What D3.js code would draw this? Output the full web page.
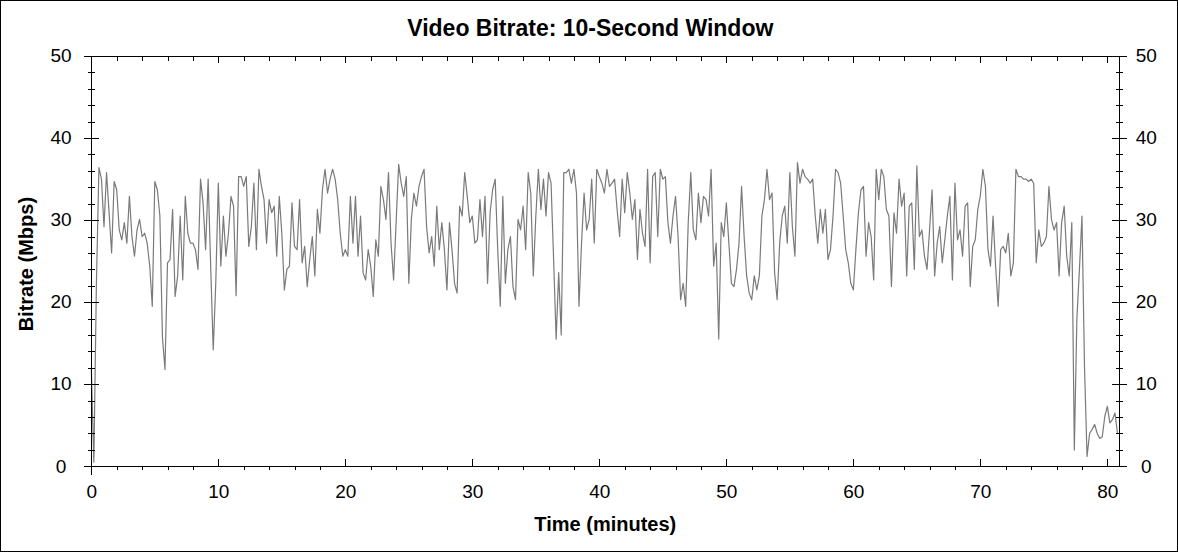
<!DOCTYPE html>
<html>
<head>
<meta charset="utf-8">
<script src="https://cdn.jsdelivr.net/npm/d3@7/dist/d3.min.js"></script>
<style>
    body { margin: 0; background: #fff; }
    svg { display: block; font-family: "Liberation Sans", Arial, sans-serif; }
    .axis path, .axis line { stroke: #000; shape-rendering: crispEdges; }
    .axis text { font-size: 19px; fill: #000; }
</style>
</head>
<body>
<div id="chart"></div>
<script>
// bitrate samples, one every 0.2 minutes (Mbps)
const stepMin = 0.2;
const bitrate = [
    12, 0.5, 22, 36.4, 35, 29.2, 35.8, 30.9, 26, 34.7,
    33.7, 28.8, 27.6, 29.7, 27.2, 32.9, 28, 25.6, 28.8, 30.1,
    28, 28.4, 27.2, 24.4, 19.5, 34.7, 33.7, 30.5, 15.8, 11.8,
    24.8, 25.2, 31.3, 20.7, 23.2, 30.5, 22.7, 32.9, 28.4, 27.2,
    27.2, 26.4, 24, 35, 32.1, 26.4, 35, 24.4, 14.2, 22.3,
    // 10
    34.5, 24.4, 30.5, 25.6, 28.4, 32.9, 31.7, 20.8, 35.3, 35.3,
    34.1, 35.3, 26.8, 29.2, 34.5, 26.4, 36.2, 34.1, 32.5, 27.2,
    32.5, 30.9, 31.7, 25.6, 32.9, 28.4, 21.5, 24, 24.4, 32.1,
    26.8, 26.4, 32.5, 24.8, 26.8, 21.9, 25.2, 28, 23.2, 31.3,
    28.4, 33.7, 36.2, 33.3, 35, 36.2, 35, 32.5, 28.4, 25.6,
    // 20
    26.4, 25.6, 32.9, 27.2, 32.9, 25.6, 30.5, 23.6, 22.7, 26.4,
    24.4, 20.7, 27.6, 25.6, 34.1, 32.5, 30.1, 35.8, 27.2, 22.7,
    29.7, 36.8, 34.5, 32.9, 35.3, 22.3, 30.1, 33.3, 31.7, 34.1,
    35.3, 36.2, 29.2, 26, 28, 24.4, 31.7, 26.4, 29.7, 26.4,
    21.5, 29.7, 26.4, 22.3, 21.1, 31.7, 30.5, 35.8, 32.9, 29.7,
    // 30
    30.5, 27.2, 27.6, 32.5, 28, 32.9, 22.3, 30.9, 33.7, 35,
    26.4, 19.5, 32.9, 22.3, 26.4, 28, 21.9, 20.3, 30.1, 28.8,
    31.7, 26.4, 35.8, 33.3, 23.2, 30.5, 36.2, 31.3, 35, 30.5,
    35.8, 34.5, 25.2, 15.5, 23.6, 16, 35.8, 35.8, 36.2, 34.5,
    36.2, 33.3, 19.5, 27.2, 33.3, 28.8, 30.1, 35, 27.2, 36.2,
    // 40
    35.3, 34.5, 33.3, 36.2, 34.1, 34.5, 35, 31.3, 28, 35,
    30.9, 35.8, 33.3, 30.1, 32.5, 25.2, 31.3, 28.4, 26.8, 36.2,
    24.8, 35.3, 35.8, 28, 36.2, 35, 35.3, 29.7, 27.2, 30.5,
    32.9, 28, 20.3, 22.3, 19.5, 29.7, 35.8, 28.8, 27.6, 33.3,
    29.7, 32.9, 32.5, 30.5, 36.2, 24.4, 27.2, 15.5, 29.7, 28,
    // 50
    32.1, 27.2, 22.3, 21.9, 24, 27.2, 34.1, 28, 23.2, 21.1,
    20.3, 23.2, 21.5, 23.2, 30.5, 32.5, 36.2, 32.5, 33.3, 23.6,
    20.3, 27.2, 30.5, 31.7, 27.2, 35.8, 29.2, 25.6, 37, 34.5,
    36.2, 35.3, 35, 34.5, 35, 30.5, 27.2, 31.3, 28.4, 31.3,
    25.2, 26.4, 30.5, 36.2, 35.8, 34.5, 30.5, 26.4, 24.8, 22.3,
    // 60
    21.5, 26.4, 30.9, 33.7, 34.1, 25.6, 29.7, 28, 22.7, 36.2,
    32.5, 36.2, 35.3, 31.3, 30.5, 21.9, 30.9, 28.4, 35, 31.7,
    33.3, 23.2, 31.7, 32.1, 24, 36.6, 28, 28.8, 25.6, 24,
    28.8, 33.7, 23.2, 27.2, 29.2, 24.8, 27.6, 30.5, 32.9, 22.7,
    34.5, 27.6, 28.8, 25.6, 31.7, 32.1, 21.9, 26.8, 27.6, 31.3,
    // 70
    33, 36.2, 34.1, 26.4, 24.4, 30.5, 24.4, 19.5, 26.4, 26.8,
    26, 28.4, 23.2, 24.8, 36.2, 35.3, 35.3, 35, 35, 34.7,
    35, 34.5, 24.8, 28.8, 26.8, 27.2, 28, 34.1, 30.1, 28.8,
    29.7, 23.2, 29.7, 31.7, 25.6, 23.2, 29.7, 2, 18, 24,
    30.5, 12.2, 1.2, 4.0, 4.5, 5.1, 4.0, 3.4, 3.6, 6.1,
    7.3, 5.3, 5.7, 6.5, 4.0
];

const xMax = 80.94;
const xMajor = d3.range(0, 81, 10);
const xMinor = d3.range(2, 81, 2).filter(d => d % 10 !== 0);
const yMajor = d3.range(0, 51, 10);
const yMinor = d3.range(2, 50, 2).filter(d => d % 10 !== 0);

const chartTitle = 'Video Bitrate: 10-Second Window';
const xTitle = 'Time (minutes)';
const yTitle = 'Bitrate (Mbps)';

let width = 1178,
    height = 552,
    margin = { top: 56, right: 58.7, bottom: 85.7, left: 91.3 };

let svg = d3.select('#chart').append('svg')
    .attr('width', width)
    .attr('height', height);

// frame round the whole picture
svg.append('rect')
    .attr('x', 0.5).attr('y', 0.5)
    .attr('width', width - 1).attr('height', height - 1)
    .attr('fill', '#fff')
    .attr('stroke', '#000');

let x = d3.scaleLinear()
    .domain([0, xMax])
    .range([margin.left, width - margin.right]);

let y = d3.scaleLinear()
    .domain([0, 50])
    .range([height - margin.bottom, margin.top]);

let points = bitrate.map(function(v, i) { return { t: i * stepMin, v: v }; });

// the series
svg.append('path')
    .datum(points)
    .attr('fill', 'none')
    .attr('stroke', '#7a7a7a')
    .attr('stroke-width', 1.2)
    .attr('stroke-linejoin', 'round')
    .attr('d', d3.line()
        .x(function(d) { return x(d.t); })
        .y(function(d) { return y(d.v); }));

let fmt = d3.format('d');

// left axis: major ticks cross the line, minor ticks too
let gLeft = svg.append('g').attr('class', 'axis')
    .attr('transform', 'translate(' + x(0) + ',0)')
    .call(d3.axisLeft(y).tickValues(yMajor).tickSize(7).tickSizeOuter(0).tickFormat(fmt));
gLeft.selectAll('.tick line').attr('x1', 8);
gLeft.selectAll('.tick text').attr('text-anchor', 'middle').attr('x', -30.3).attr('dy', '0.3em');
svg.append('g').attr('class', 'axis minor')
    .attr('transform', 'translate(' + x(0) + ',0)')
    .call(d3.axisLeft(y).tickValues(yMinor).tickSize(3).tickSizeOuter(0).tickFormat(''))
    .call(g => g.select('.domain').remove())
    .selectAll('.tick line').attr('x1', 4);

// right axis mirrors the left one
let gRight = svg.append('g').attr('class', 'axis')
    .attr('transform', 'translate(' + x(xMax) + ',0)')
    .call(d3.axisRight(y).tickValues(yMajor).tickSize(8).tickSizeOuter(0).tickFormat(fmt));
gRight.selectAll('.tick line').attr('x1', -7);
gRight.selectAll('.tick text').attr('text-anchor', 'middle').attr('x', 27).attr('dy', '0.3em');
svg.append('g').attr('class', 'axis minor')
    .attr('transform', 'translate(' + x(xMax) + ',0)')
    .call(d3.axisRight(y).tickValues(yMinor).tickSize(4).tickSizeOuter(0).tickFormat(''))
    .call(g => g.select('.domain').remove())
    .selectAll('.tick line').attr('x1', -3);

// bottom axis: major ticks point in, minor ticks point out
let gBottom = svg.append('g').attr('class', 'axis')
    .attr('transform', 'translate(0,' + y(0) + ')')
    .call(d3.axisBottom(x).tickValues(xMajor).tickSize(-7).tickSizeOuter(0).tickPadding(18.7).tickFormat(fmt));
svg.append('g').attr('class', 'axis minor')
    .attr('transform', 'translate(0,' + y(0) + ')')
    .call(d3.axisBottom(x).tickValues(xMinor).tickSize(4).tickSizeOuter(0).tickFormat(''))
    .call(g => g.select('.domain').remove());

// top axis, no labels
svg.append('g').attr('class', 'axis')
    .attr('transform', 'translate(0,' + y(50) + ')')
    .call(d3.axisTop(x).tickValues(xMajor).tickSize(-7).tickSizeOuter(0).tickFormat(''));
svg.append('g').attr('class', 'axis minor')
    .attr('transform', 'translate(0,' + y(50) + ')')
    .call(d3.axisTop(x).tickValues(xMinor).tickSize(-5).tickSizeOuter(0).tickFormat(''))
    .call(g => g.select('.domain').remove());

// left axis line runs a little past the bottom
svg.append('line')
    .attr('x1', x(0)).attr('x2', x(0))
    .attr('y1', y(0)).attr('y2', y(0) + 9)
    .attr('stroke', '#000')
    .style('shape-rendering', 'crispEdges');

// titles
svg.append('text')
    .attr('x', (x(0) + x(xMax)) / 2 - 15)
    .attr('y', 36)
    .attr('text-anchor', 'middle')
    .style('font-size', '23px')
    .style('font-weight', 'bold')
    .text(chartTitle);

svg.append('text')
    .attr('x', (x(0) + x(xMax)) / 2)
    .attr('y', 531)
    .attr('text-anchor', 'middle')
    .style('font-size', '20px')
    .style('font-weight', 'bold')
    .text(xTitle);

svg.append('text')
    .attr('transform', 'translate(33,' + ((y(0) + y(50)) / 2 + 3) + ') rotate(-90)')
    .attr('text-anchor', 'middle')
    .style('font-size', '20px')
    .style('font-weight', 'bold')
    .text(yTitle);
</script>
</body>
</html>
